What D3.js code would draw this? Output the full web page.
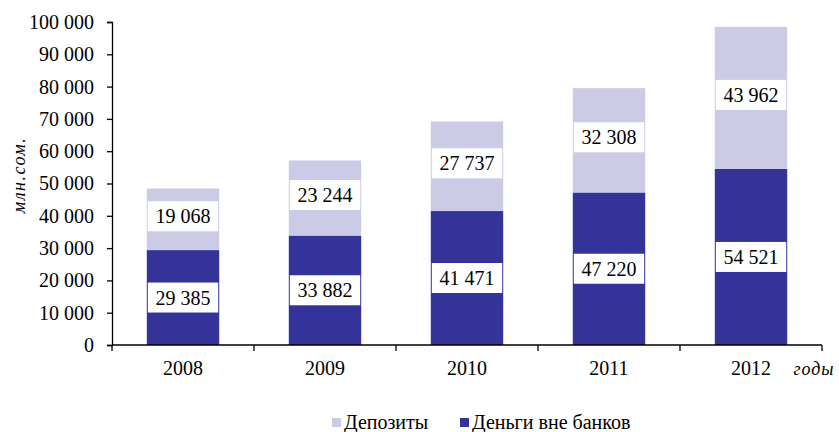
<!DOCTYPE html>
<html>
<head>
<meta charset="utf-8">
<script src="https://cdn.jsdelivr.net/npm/d3@7"></script>
<style>
  html, body { margin: 0; padding: 0; background: #fff; }
  svg { display: block; font-family: "Liberation Serif", "Times New Roman", serif; }
</style>
</head>
<body>
<svg id="chart" width="839" height="432"></svg>
<script>
// Money supply components, mln soms
const years = ["2008", "2009", "2010", "2011", "2012"];
const cashOutside = [29385, 33882, 41471, 47220, 54521];   // Деньги вне банков
const deposits = [19068, 23244, 27737, 32308, 43962];      // Депозиты
const yTicks = [0, 10000, 20000, 30000, 40000, 50000, 60000, 70000, 80000, 90000, 100000];
const seriesNames = ["Деньги вне банков", "Депозиты"];
const seriesColors = ["#333399", "#cccbe6"];

const svg = d3.select("#chart");
const margin = { left: 112, right: 17, top: 22, bottom: 87 };
const W = 839, H = 432;

const x = d3.scaleBand().domain(years).range([margin.left, W - margin.right]).paddingInner(0.49).paddingOuter(0.245);
const xBounds = d3.scaleLinear().domain([0, years.length]).range([margin.left, W - margin.right]);
const y = d3.scaleLinear().domain([0, 100000]).range([H - margin.bottom, margin.top]);

const fmt = v => d3.format(",")(v).replace(/,/g, " ");

const rows = years.map((yr, i) => ({ year: yr, cash: cashOutside[i], dep: deposits[i] }));
const stack = d3.stack().keys(["cash", "dep"])(rows);

// stacked bars
const g = svg.append("g");
stack.forEach((layer, li) => {
  g.selectAll(null).data(layer).enter().append("rect")
    .attr("x", d => x(d.data.year))
    .attr("width", x.bandwidth())
    .attr("y", d => y(d[1]))
    .attr("height", d => y(d[0]) - y(d[1]))
    .attr("fill", seriesColors[li]);
});

// value labels in white boxes
stack.forEach((layer, li) => {
  layer.forEach(d => {
    const val = d[1] - d[0];
    const cx = x(d.data.year) + x.bandwidth() / 2;
    const cy = (y(d[0]) + y(d[1])) / 2 - (li === 1 ? 3 : 0);
    const bw = x.bandwidth() - 2, bh = 30;
    g.append("rect").attr("x", cx - bw / 2).attr("y", cy - bh / 2)
      .attr("width", bw).attr("height", bh).attr("fill", "#fff");
    g.append("text").attr("x", cx).attr("y", cy).attr("dy", "0.35em")
      .attr("text-anchor", "middle").attr("font-size", 20).attr("fill", "#000")
      .text(fmt(val));
  });
});

// y axis
const yAxis = svg.append("g").attr("transform", `translate(${margin.left},0)`)
  .call(d3.axisLeft(y).tickValues(yTicks).tickFormat(fmt).tickSize(5).tickPadding(13));
yAxis.select(".domain").attr("stroke", "#000").attr("stroke-width", 1.3);
yAxis.selectAll(".tick line").attr("stroke", "#000").attr("stroke-width", 1.3);
yAxis.selectAll("text").attr("font-size", 20).attr("font-family", "Liberation Serif, serif").attr("fill", "#000");

// x axis
const xAxisG = svg.append("g").attr("transform", `translate(0,${y(0)})`);
xAxisG.append("line").attr("x1", margin.left).attr("x2", W - margin.right)
  .attr("stroke", "#000").attr("stroke-width", 1.3);
xAxisG.selectAll(null).data(d3.range(years.length + 1)).enter().append("line")
  .attr("x1", i => xBounds(i)).attr("x2", i => xBounds(i)).attr("y1", 0).attr("y2", 6)
  .attr("stroke", "#000").attr("stroke-width", 1.3);
xAxisG.selectAll(null).data(years).enter().append("text")
  .attr("x", d => x(d) + x.bandwidth() / 2).attr("y", 30)
  .attr("text-anchor", "middle").attr("font-size", 20).attr("fill", "#000").text(d => d);

// axis titles
svg.append("text").attr("x", 814).attr("y", 375).attr("text-anchor", "middle")
  .attr("font-size", 18).attr("font-style", "italic").attr("letter-spacing", 1).text("годы");
svg.append("text").attr("transform", "translate(25,175) rotate(-90)")
  .attr("text-anchor", "middle").attr("font-size", 18).attr("font-style", "italic")
  .attr("letter-spacing", 1.5).text("млн.сом.");

// legend
const legendItems = [
  { name: seriesNames[1], color: seriesColors[1], x: 332 },
  { name: seriesNames[0], color: seriesColors[0], x: 460 }
];
const lg = svg.append("g");
legendItems.forEach(it => {
  lg.append("rect").attr("x", it.x).attr("y", 418).attr("width", 9).attr("height", 9).attr("fill", it.color);
  lg.append("text").attr("x", it.x + 12).attr("y", 429).attr("font-size", 20).attr("fill", "#000").text(it.name);
});
</script>
</body>
</html>
